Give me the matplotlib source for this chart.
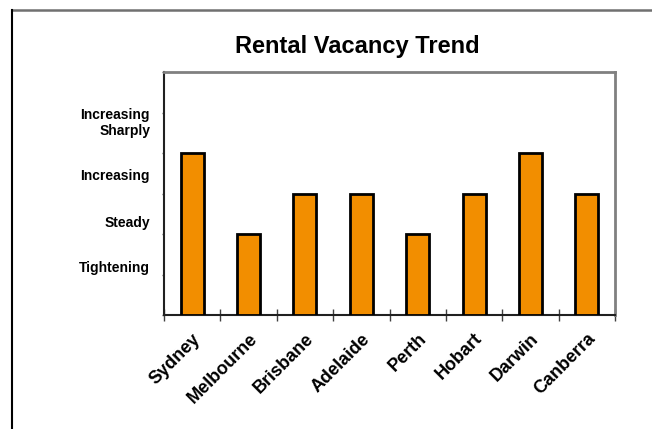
import numpy as np
import matplotlib
matplotlib.use('Agg')
import matplotlib.pyplot as plt
from matplotlib.lines import Line2D

# Dados do gráfico
cidades = ['Sydney', 'Melbourne', 'Brisbane', 'Adelaide', 'Perth', 'Hobart', 'Darwin', 'Canberra']
tendencia = [4, 2, 3, 3, 2, 3, 4, 3]
niveis = ['Tightening', 'Steady', 'Increasing', 'Increasing\nSharply']
niveis_y = [1.2, 2.3, 3.47, 4.8]

plt.rcParams['font.family'] = ['Liberation Sans', 'DejaVu Sans']
plt.rcParams['font.weight'] = 'bold'

fig = plt.figure(figsize=(6.52, 4.29), dpi=100)
ax = fig.add_axes([164 / 652, 1 - 315 / 429, 451 / 652, 243 / 429])

x = np.arange(len(cidades)) + 0.5
ax.bar(x, tendencia, width=0.41, color='#F28E00', edgecolor='black', linewidth=2, zorder=3)

ax.set_xlim(0, len(cidades))
ax.set_ylim(0, 6)

# Eixo x: marcas entre categorias, rótulos no centro
ax.set_xticks(np.arange(len(cidades) + 1))
ax.set_xticklabels([])
ax.set_xticks(x, minor=True)
ax.set_xticklabels(cidades, minor=True, rotation=45, ha='right', rotation_mode='anchor',
                   fontsize=13, fontweight='bold')
ax.tick_params(axis='x', which='major', direction='inout', length=8, width=1, color='#404040')
ax.tick_params(axis='x', which='minor', length=0, pad=11)

# Eixo y: marcas pequenas nos inteiros, rótulos de nível à parte
ax.set_yticks(np.arange(0, 7))
ax.set_yticklabels([])
ax.set_yticks(niveis_y, minor=True)
ax.set_yticklabels(niveis, minor=True, fontsize=10, fontweight='bold', ha='right',
                   multialignment='right')
ax.tick_params(axis='y', which='major', direction='out', length=1.5, width=1, color='#606060', pad=2)
ax.tick_params(axis='y', which='minor', length=0, pad=10)

for lado in ['left', 'bottom']:
    ax.spines[lado].set_color('#202020')
    ax.spines[lado].set_linewidth(1.5)
for lado in ['top', 'right']:
    ax.spines[lado].set_color('#808080')
    ax.spines[lado].set_linewidth(2)

fig.text(357 / 652, 1 - 47 / 429, 'Rental Vacancy Trend', ha='center', va='center',
         fontsize=17, fontweight='bold')

# Borda externa do gráfico (apenas topo e esquerda visíveis)
fig.add_artist(Line2D([12 / 652, 1], [1 - 10 / 429, 1 - 10 / 429], color='#707070', linewidth=1.8))
fig.add_artist(Line2D([12 / 652, 12 / 652], [0, 1 - 10 / 429], color='black', linewidth=1.5))

fig.savefig('out.png', dpi=100)
